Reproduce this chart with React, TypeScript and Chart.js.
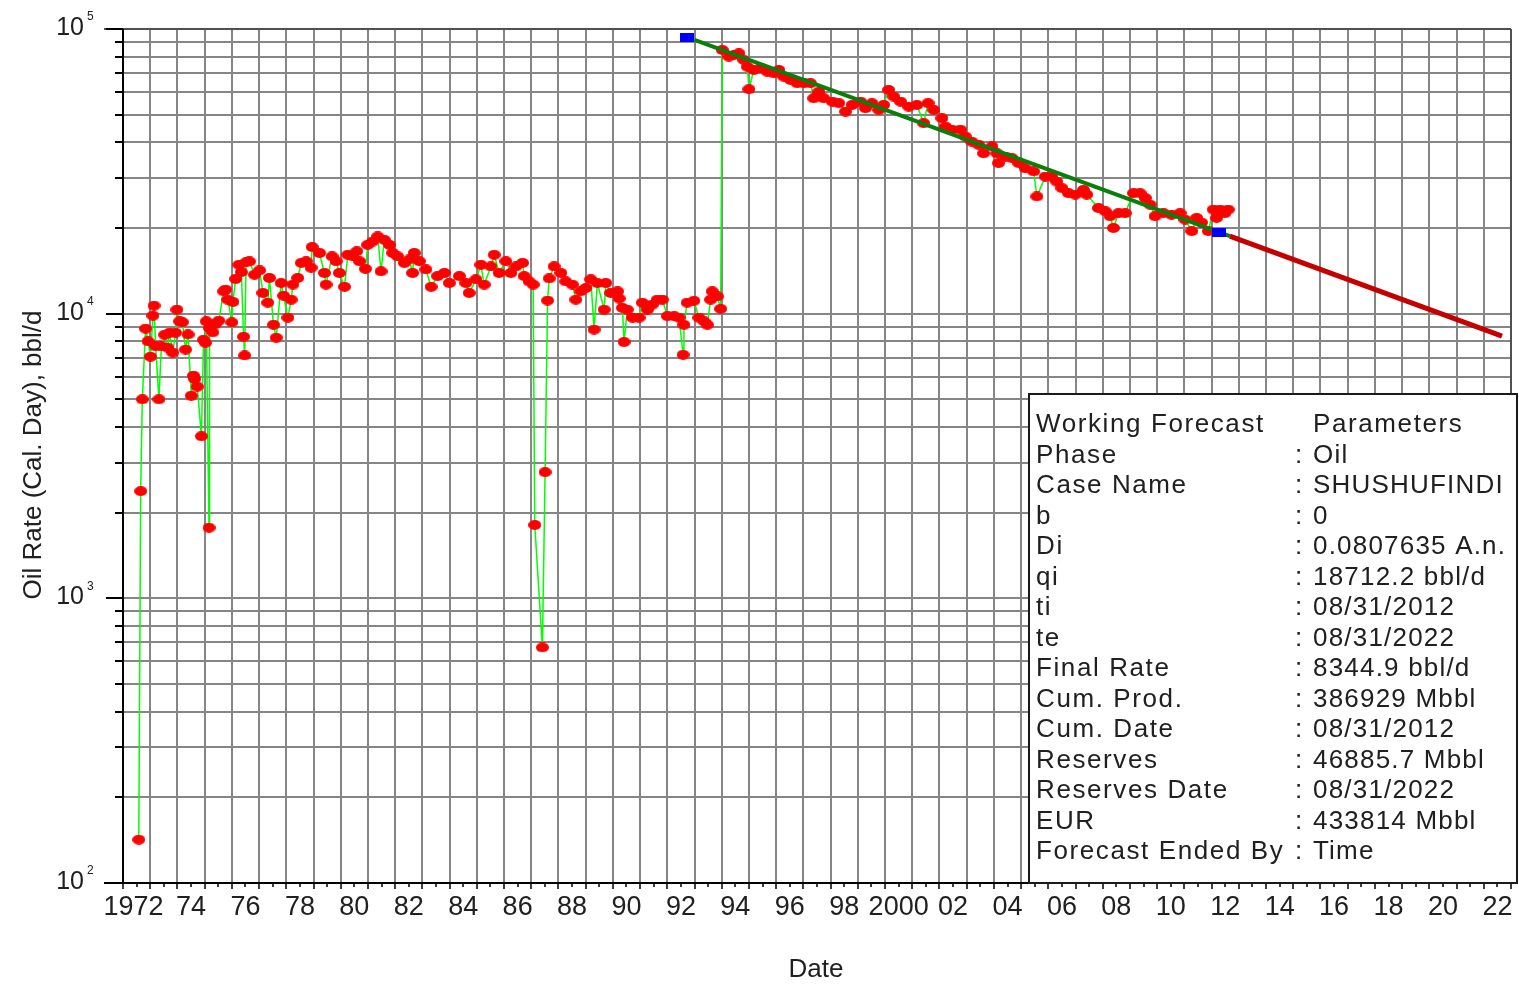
import React, { useEffect, useRef } from 'react';
import { Chart, registerables } from 'chart.js';

Chart.register(...registerables);

// ---- Historical production (year, bbl/d) ----
const histYears = [
  1972.58, 1972.65, 1972.71, 1972.83, 1972.92, 1973.01, 1973.10, 1973.14, 1973.20, 1973.32,
  1973.41, 1973.53, 1973.64, 1973.71, 1973.83, 1973.93, 1973.98, 1974.08, 1974.18, 1974.30,
  1974.39, 1974.51, 1974.59, 1974.63, 1974.73, 1974.88, 1974.96, 1975.03, 1975.06, 1975.16,
  1975.18, 1975.30, 1975.40, 1975.52, 1975.70, 1975.77, 1975.85, 1976.00, 1976.04, 1976.14,
  1976.26, 1976.35, 1976.43, 1976.47, 1976.52, 1976.65, 1976.83, 1977.02, 1977.14, 1977.32,
  1977.38, 1977.53, 1977.63, 1977.81, 1977.90, 1978.06, 1978.18, 1978.24, 1978.42, 1978.55,
  1978.73, 1978.91, 1978.95, 1979.22, 1979.40, 1979.46, 1979.68, 1979.83, 1979.95, 1980.14,
  1980.26, 1980.44, 1980.59, 1980.69, 1980.91, 1980.99, 1981.17, 1981.36, 1981.48, 1981.60,
  1981.79, 1981.91, 1982.09, 1982.34, 1982.52, 1982.64, 1982.70, 1982.89, 1983.13, 1983.32,
  1983.56, 1983.81, 1983.99, 1984.36, 1984.60, 1984.72, 1984.97, 1985.15, 1985.27, 1985.52,
  1985.64, 1985.82, 1986.07, 1986.25, 1986.44, 1986.68, 1986.74, 1986.92, 1987.07, 1987.13,
  1987.41, 1987.51, 1987.60, 1987.66, 1987.84, 1988.09, 1988.27, 1988.51, 1988.64, 1988.82,
  1989.01, 1989.19, 1989.31, 1989.43, 1989.68, 1989.74, 1989.92, 1990.17, 1990.23, 1990.35,
  1990.41, 1990.53, 1990.72, 1990.96, 1991.08, 1991.27, 1991.45, 1991.63, 1991.82, 1992.00,
  1992.25, 1992.43, 1992.58, 1992.61, 1992.73, 1992.98, 1993.16, 1993.35, 1993.47, 1993.59,
  1993.65, 1993.84, 1993.96, 1994.02, 1994.26, 1994.45, 1994.63, 1994.81, 1994.94, 1995.00,
  1995.18, 1995.43, 1995.67, 1995.92, 1996.10, 1996.28, 1996.53, 1996.77, 1997.02, 1997.26,
  1997.38, 1997.57, 1997.75, 1998.06, 1998.30, 1998.55, 1998.79, 1999.10, 1999.28, 1999.52,
  1999.77, 1999.95, 2000.13, 2000.32, 2000.57, 2000.87, 2001.17, 2001.42, 2001.58, 2001.79,
  2002.09, 2002.22, 2002.46, 2002.77, 2002.95, 2003.19, 2003.44, 2003.62, 2003.93, 2004.11,
  2004.17, 2004.42, 2004.66, 2004.91, 2005.15, 2005.46, 2005.58, 2005.89, 2006.13, 2006.31,
  2006.50, 2006.74, 2006.99, 2007.29, 2007.41, 2007.84, 2008.09, 2008.27, 2008.39, 2008.58,
  2008.82, 2009.13, 2009.37, 2009.56, 2009.74, 2009.92, 2010.23, 2010.53, 2010.84, 2011.02,
  2011.27, 2011.45, 2011.63, 2011.88, 2012.06, 2012.18, 2012.31, 2012.49, 2012.61,
];
const histRates = [
  142, 2380, 5000, 8860, 8000, 7060, 9840, 10670, 7680, 5000,
  7680, 8430, 7600, 8570, 7300, 8570, 10330, 9400, 9330, 7480,
  8450, 5150, 6060, 5900, 5540, 3710, 8100, 7900, 9400, 1770,
  8900, 8600, 9200, 9450, 11980, 12150, 11200, 9320, 11000, 13240,
  14850, 14000, 8300, 7130, 15150, 15250, 13700, 14200, 11820, 10930,
  13350, 9140, 8230, 12810, 11560, 9680, 11200, 12650, 13350, 15080,
  15280, 14500, 17140, 16340, 13900, 12650, 15900, 15280, 13900, 12420,
  16100, 15900, 16560, 15280, 14370, 17450, 17920, 18670, 14080, 18170,
  17450, 16340, 15900, 15080, 15500, 13900, 16340, 15280, 14300, 12420,
  13550, 13900, 12810, 13550, 12810, 11820, 13200, 14850, 12650, 14650,
  16100, 13900, 15280, 13900, 14650, 15080, 13550, 12980, 12650, 1810,
  672, 2775, 11120, 13300, 14650, 13900, 12980, 12650, 11200, 11980,
  12310, 13200, 8790, 12810, 10330, 12810, 11820, 11980, 11300, 10480,
  7950, 10330, 9680, 9680, 10930, 10330, 10760, 11200, 11200, 9800,
  9800, 9680, 7170, 9140, 10930, 11100, 9680, 9400, 9140, 11200,
  11980, 11500, 10400, 84400, 79960, 81000, 82170, 77870, 73700, 61450,
  71800, 72800, 70850, 69900, 71800, 68000, 66200, 64500, 64500, 64500,
  57100, 60200, 57100, 55600, 54900, 51300, 54100, 55600, 52700, 54900,
  52000, 54100, 61100, 57900, 55600, 53360, 54100, 46700, 54900, 52000,
  48600, 45400, 44300, 44300, 41900, 40200, 39200, 36600, 38700, 36600,
  33800, 35640, 35200, 33800, 32400, 31600, 25800, 30300, 30300, 29100,
  27600, 26500, 26200, 27200, 26200, 23500, 22900, 21990, 20000, 22550,
  22550, 26500, 26500, 25500, 24150, 21990, 22550, 22250, 22550, 21400,
  19500, 21700, 20900, 19500, 23200, 21700, 23200, 22550, 23200,
];

// ---- Decline fit (history) and forecast ----
const fitYears = [1993.0, 2012.67];
const fitRates = [91650, 18712.2];
const forecastYears = [2012.67, 2022.67];
const forecastRates = [18712.2, 8344.9];
const markerYears = [1992.73, 2012.28];
const markerRates = [93000, 19300];

// ---- Axis labels ----
const xLabelYears = [1972, 1974, 1976, 1978, 1980, 1982, 1984, 1986, 1988, 1990, 1992, 1994, 1996,
  1998, 2000, 2002, 2004, 2006, 2008, 2010, 2012, 2014, 2016, 2018, 2020, 2022];
const xLabelTexts = ['1972', '74', '76', '78', '80', '82', '84', '86', '88', '90', '92', '94', '96',
  '98', '2000', '02', '04', '06', '08', '10', '12', '14', '16', '18', '20', '22'];
const yDecades = [100, 1000, 10000, 100000];
const yDecadeExps = ['2', '3', '4', '5'];
const yMantissas = [1, 2, 3, 4, 5, 6, 7, 8, 9];
const xMin = 1972;
const xMax = 2023;

// ---- Parameter box ----
const legendLabels = ['Working Forecast', 'Phase', 'Case Name', 'b', 'Di', 'qi', 'ti', 'te', 'Final Rate',
  'Cum. Prod.', 'Cum. Date', 'Reserves', 'Reserves Date', 'EUR', 'Forecast Ended By'];
const legendValues = ['Parameters', 'Oil', 'SHUSHUFINDI', '0', '0.0807635 A.n.', '18712.2 bbl/d',
  '08/31/2012', '08/31/2022', '8344.9 bbl/d', '386929 Mbbl', '08/31/2012', '46885.7 Mbbl',
  '08/31/2022', '433814 Mbbl', 'Time'];

const FONT = "'Liberation Sans', Arial, sans-serif";
const GRID = '#868686';
const TEXT = '#202020';

const xGridYears: number[] = [];
for (let yr = xMin; yr <= xMax; yr++) xGridYears.push(yr);
const yGridValues: number[] = [];
yDecades.slice(0, 3).forEach((d) => yMantissas.forEach((m) => yGridValues.push(m * d)));
yGridValues.push(yDecades[3]);

function pts(xs: number[], ys: number[]) {
  return xs.map((x, i) => ({ x, y: ys[i] }));
}

const decorPlugin = {
  id: 'decor',
  afterDraw(chart: any) {
    const ctx: CanvasRenderingContext2D = chart.ctx;
    const xs = chart.scales.x;
    const ys = chart.scales.y;
    const { left, right, top, bottom } = chart.chartArea;
    ctx.save();

    // frame
    ctx.lineWidth = 2;
    ctx.strokeStyle = '#505050';
    ctx.beginPath();
    ctx.moveTo(left - 19, top);
    ctx.lineTo(right, top);
    ctx.moveTo(right, top);
    ctx.lineTo(right, bottom);
    ctx.stroke();

    // axes
    ctx.strokeStyle = '#000';
    ctx.beginPath();
    ctx.moveTo(left, top);
    ctx.lineTo(left, bottom + 1);
    ctx.moveTo(left - 19, bottom);
    ctx.lineTo(right, bottom);
    ctx.stroke();

    // y ticks
    ctx.beginPath();
    yGridValues.forEach((v) => {
      const py = Math.round(ys.getPixelForValue(v));
      const major = yDecades.includes(v);
      ctx.moveTo(major ? left - 17 : left - 8, py);
      ctx.lineTo(left, py);
    });
    ctx.stroke();

    // x ticks
    ctx.lineWidth = 1.5;
    ctx.beginPath();
    xGridYears.forEach((yr) => {
      const px = Math.round(xs.getPixelForValue(yr));
      ctx.moveTo(px, bottom);
      ctx.lineTo(px, bottom + 6);
      if (yr < xMax) {
        const ph = Math.round(xs.getPixelForValue(yr + 0.5));
        ctx.moveTo(ph, bottom);
        ctx.lineTo(ph, bottom + 4);
      }
    });
    ctx.stroke();

    // x labels
    ctx.fillStyle = TEXT;
    ctx.font = `27px ${FONT}`;
    ctx.textAlign = 'center';
    ctx.textBaseline = 'middle';
    xLabelYears.forEach((yr, i) => {
      ctx.fillText(xLabelTexts[i], xs.getPixelForValue(yr + 0.5) - (i === 0 ? 3 : 0), bottom + 25);
    });

    // y labels
    yDecades.forEach((v, i) => {
      const py = ys.getPixelForValue(v);
      ctx.font = `25px ${FONT}`;
      ctx.textAlign = 'right';
      ctx.textBaseline = 'middle';
      ctx.fillText('10', left - 39, py - 1);
      ctx.font = `12px ${FONT}`;
      ctx.textAlign = 'left';
      ctx.fillText(yDecadeExps[i], left - 36, py - 12);
    });

    // axis titles
    ctx.font = `26px ${FONT}`;
    ctx.textAlign = 'center';
    ctx.textBaseline = 'middle';
    ctx.fillText('Date', 816, 970);
    ctx.save();
    ctx.translate(34, 455);
    ctx.rotate(-Math.PI / 2);
    ctx.fillText('Oil Rate (Cal. Day), bbl/d', 0, 0);
    ctx.restore();

    // parameter box
    const bx = 1029, by = 394, bw = 488, bh = bottom - 394;
    ctx.fillStyle = '#fff';
    ctx.fillRect(bx, by, bw, bh);
    ctx.strokeStyle = '#1a1a1a';
    ctx.lineWidth = 2;
    ctx.strokeRect(bx, by, bw, bh);
    ctx.fillStyle = TEXT;
    ctx.font = `26px ${FONT}`;
    (ctx as any).letterSpacing = '1.6px';
    ctx.textAlign = 'left';
    ctx.textBaseline = 'middle';
    legendLabels.forEach((lab, i) => {
      const ry = 425 + i * 30.5;
      ctx.fillText(lab, 1036, ry);
      if (i === 0) {
        ctx.fillText(legendValues[i], 1313, ry);
      } else {
        ctx.fillText(':', 1295, ry);
        (ctx as any).letterSpacing = '1.2px';
        ctx.fillText(legendValues[i], 1313, ry);
        (ctx as any).letterSpacing = '1.6px';
      }
    });
    (ctx as any).letterSpacing = '0px';
    ctx.restore();
  },
};

export default function App() {
  const ref = useRef<HTMLCanvasElement>(null);
  useEffect(() => {
    document.body.style.margin = '0';
    document.body.style.overflow = 'hidden';
    const blue = document.createElement('canvas');
    blue.width = 14;
    blue.height = 9;
    const bctx = blue.getContext('2d')!;
    bctx.fillStyle = '#0000ff';
    bctx.fillRect(0, 0, 14, 9);

    const dot = document.createElement('canvas');
    dot.width = 13;
    dot.height = 10;
    const dctx = dot.getContext('2d')!;
    dctx.fillStyle = '#ff0000';
    dctx.beginPath();
    dctx.ellipse(6.5, 5, 6.5, 5, 0, 0, Math.PI * 2);
    dctx.fill();

    const gridOpts = { color: GRID, lineWidth: 2, drawTicks: false };
    const chart = new Chart(ref.current!, {
      type: 'scatter',
      data: {
        datasets: [
          {
            label: 'markers',
            data: pts(markerYears, markerRates),
            pointStyle: blue as any,
            pointRadius: 7,
            showLine: false,
            order: 0,
          },
          {
            label: 'forecast',
            data: pts(forecastYears, forecastRates),
            showLine: true,
            borderColor: '#c40000',
            borderWidth: 5,
            pointRadius: 0,
            order: 1,
          },
          {
            label: 'fit',
            data: pts(fitYears, fitRates),
            showLine: true,
            borderColor: '#0a7d0a',
            borderWidth: 4,
            pointRadius: 0,
            order: 2,
          },
          {
            label: 'history',
            data: pts(histYears, histRates),
            showLine: true,
            borderColor: '#00ff00',
            borderWidth: 1.5,
            pointStyle: dot as any,
            pointRadius: 6,
            pointBackgroundColor: '#ff0000',
            pointBorderColor: '#ff0000',
            pointBorderWidth: 0,
            order: 3,
          },
        ],
      },
      options: {
        responsive: false,
        animation: false,
        devicePixelRatio: 1,
        layout: { padding: { top: 29, right: 4, left: 0, bottom: 0 } },
        plugins: { legend: { display: false }, tooltip: { enabled: false } },
        events: [],
        scales: {
          x: {
            type: 'linear',
            min: xMin,
            max: xMax,
            afterBuildTicks: (s: any) => {
              s.ticks = xGridYears.map((v) => ({ value: v }));
            },
            afterFit: (s: any) => {
              s.height = 101;
            },
            ticks: { display: false },
            grid: gridOpts,
            border: { display: false },
          },
          y: {
            type: 'logarithmic',
            min: 100,
            max: 100000,
            afterBuildTicks: (s: any) => {
              s.ticks = yGridValues.map((v) => ({ value: v }));
            },
            afterFit: (s: any) => {
              s.width = 123;
            },
            ticks: { display: false },
            grid: gridOpts,
            border: { display: false },
          },
        },
      },
      plugins: [decorPlugin],
    } as any);
    return () => chart.destroy();
  }, []);
  return (
    <canvas
      ref={ref}
      width={1519}
      height={984}
      style={{ display: 'block', width: '1519px', height: '984px' }}
    />
  );
}
